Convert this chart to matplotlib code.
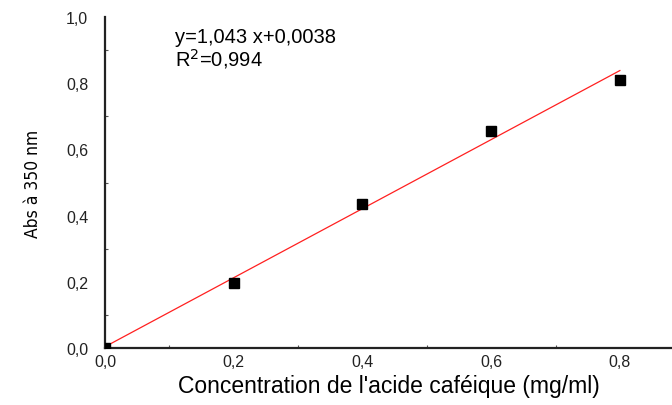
import matplotlib
matplotlib.use("Agg")
import matplotlib.pyplot as plt
from matplotlib.ticker import MultipleLocator, FuncFormatter
import numpy as np

# Calibration data: caffeic acid concentration vs absorbance at 350 nm
concentration = [0.0, 0.2, 0.4, 0.6, 0.8]
absorbance = [0.0, 0.197, 0.435, 0.657, 0.811]

slope = 1.043
intercept = 0.0038
r_squared = 0.994

plt.rcParams['font.family'] = ['Liberation Sans', 'DejaVu Sans']

fig = plt.figure(figsize=(6.72, 4.06), dpi=100)
ax = fig.add_axes([105 / 672, 57 / 406, 1 - 105 / 672, 331 / 406])

# Regression line over the measured range
xfit = np.array([concentration[0], concentration[-1]])
ax.plot(xfit, slope * xfit + intercept, color='#ff2020', lw=0.9, zorder=2)

# Measured points
ax.plot(concentration, absorbance, linestyle='none', marker='s',
        markersize=7, color='black', zorder=3)

ax.text(0.108, 0.94, f"y={slope:.3f} x+{intercept:.4f}".replace('.', ','),
        fontsize=14.5, va='center', ha='left')
ax.text(0.108, 0.877, "R$^2$=" + f"{r_squared:.3f}".replace('.', ','),
        fontsize=14.5, va='center', ha='left')

ax.set_xlim(0, 0.881)
ax.set_ylim(0, 1.0)

ax.xaxis.set_major_locator(MultipleLocator(0.2))
ax.xaxis.set_minor_locator(MultipleLocator(0.1))
ax.yaxis.set_major_locator(MultipleLocator(0.2))
ax.yaxis.set_minor_locator(MultipleLocator(0.1))
comma = FuncFormatter(lambda v, p: f"{v:.1f}".replace('.', ','))
ax.xaxis.set_major_formatter(comma)
ax.yaxis.set_major_formatter(comma)

ax.tick_params(which='major', length=0, labelsize=11.5, colors='#222222')
ax.tick_params(which='minor', length=2, direction='in', width=0.8, color='#555555')
ax.tick_params(axis='x', which='major', pad=4)
ax.tick_params(axis='y', which='major', pad=12)

for side in ('top', 'right'):
    ax.spines[side].set_visible(False)
for side in ('left', 'bottom'):
    ax.spines[side].set_linewidth(1.6)
    ax.spines[side].set_color('#222222')

ax.set_xlabel("Concentration de l'acide caféique (mg/ml)", fontsize=16.5, labelpad=4)
ax.set_ylabel("Abs à 350 nm", fontsize=12.5, labelpad=17,
              family=['DejaVu Sans'], stretch='condensed')

fig.savefig("out.png", dpi=100)
